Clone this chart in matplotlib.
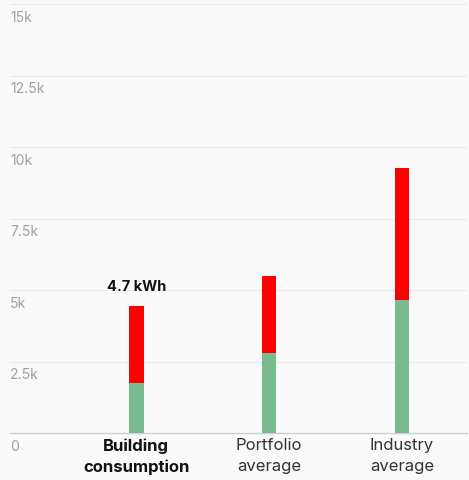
import matplotlib.pyplot as plt
import matplotlib.transforms as mtrans

categories = ["Building\nconsumption", "Portfolio\naverage", "Industry\naverage"]
base_vals = [1750, 2800, 4650]
extra_vals = [2700, 2700, 4620]
yticks = [0, 2500, 5000, 7500, 10000, 12500, 15000]
ytick_labels = ["0", "2.5k", "5k", "7.5k", "10k", "12.5k", "15k"]
bar_label = "4.7 kWh"

plt.rcParams['font.family'] = ['Inter', 'Lato', 'DejaVu Sans']

fig = plt.figure(figsize=(4.69, 4.81), dpi=100)
fig.patch.set_facecolor('#fafafa')
ax = fig.add_axes([10/469, 1 - 434/481, 457/469, 429/481])
ax.set_facecolor('#fafafa')

x = list(range(len(categories)))
ax.bar(x, base_vals, width=0.11, color='#78bb8e', zorder=3)
ax.bar(x, extra_vals, bottom=base_vals, width=0.11, color='#ff0000', zorder=3)

ax.set_xlim(-0.95, 2.49)
ax.set_ylim(0, 15000)

for s in ['top', 'right', 'left']:
    ax.spines[s].set_visible(False)
ax.spines['bottom'].set_color('#cfcfcf')
ax.spines['bottom'].set_linewidth(1)
ax.set_yticks([])
ax.set_xticks([])

for t in yticks[1:]:
    ax.axhline(t, color='#ececec', lw=0.9, zorder=1)

off = mtrans.offset_copy(ax.get_yaxis_transform(), fig=fig, x=0, y=-4, units='points')
for t, lab in zip(yticks, ytick_labels):
    ax.text(0.0, t, lab, transform=off, ha='left', va='top',
            fontsize=10, color='#a0a0a0')

lab_tr = mtrans.offset_copy(ax.get_xaxis_transform(), fig=fig, x=0, y=-3, units='points')
for i, c in enumerate(categories):
    ax.text(i, 0, c, transform=lab_tr, ha='center', va='top', fontsize=12,
            linespacing=1.5,
            color='#111111' if i == 0 else '#333333',
            fontweight='bold' if i == 0 else 'normal')

ax.annotate(bar_label, (0, base_vals[0] + extra_vals[0]), xytext=(0, 9),
            textcoords='offset points', ha='center', va='bottom',
            fontsize=10.5, fontweight='bold', color='#111111')

fig.savefig('out.png', dpi=100, facecolor=fig.get_facecolor())
